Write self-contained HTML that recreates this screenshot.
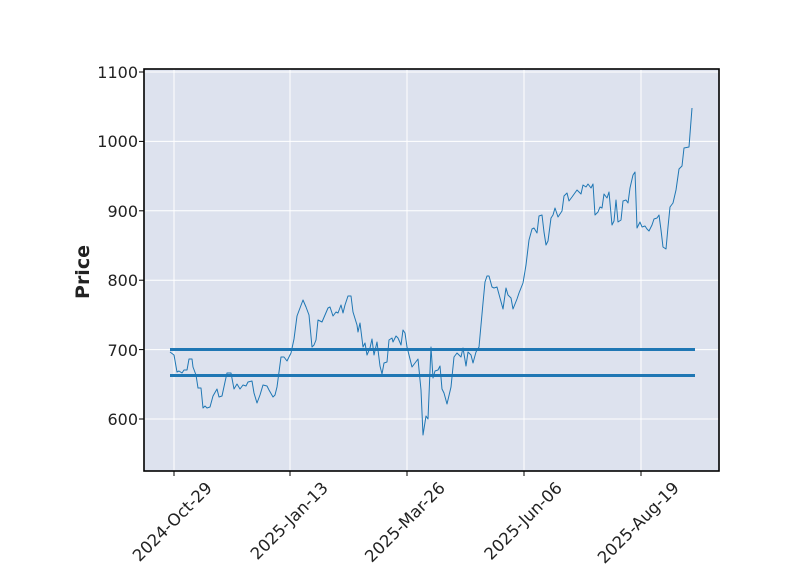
<!DOCTYPE html>
<html><head><meta charset="utf-8"><style>
html,body{margin:0;padding:0;background:#fff;}
svg text{font-family:"DejaVu Sans","Liberation Sans",sans-serif;fill:#222;}
</style></head><body>
<svg width="800" height="575" viewBox="0 0 800 575" xmlns="http://www.w3.org/2000/svg">
<rect x="144" y="69" width="575" height="402" fill="#dde2ee"/>
<g stroke="#fff" stroke-width="1">
<line x1="144" y1="72" x2="719" y2="72"/>
<line x1="144" y1="141.4" x2="719" y2="141.4"/>
<line x1="144" y1="210.8" x2="719" y2="210.8"/>
<line x1="144" y1="280.2" x2="719" y2="280.2"/>
<line x1="144" y1="349.6" x2="719" y2="349.6"/>
<line x1="144" y1="419" x2="719" y2="419"/>
<line x1="174" y1="69" x2="174" y2="471"/>
<line x1="290" y1="69" x2="290" y2="471"/>
<line x1="407" y1="69" x2="407" y2="471"/>
<line x1="524" y1="69" x2="524" y2="471"/>
<line x1="641" y1="69" x2="641" y2="471"/>
</g>
<line x1="170" y1="349.5" x2="695" y2="349.5" stroke="#1f77b4" stroke-width="3"/>
<line x1="170" y1="375.5" x2="695" y2="375.5" stroke="#1f77b4" stroke-width="3"/>
<polyline fill="none" stroke="#1f77b4" stroke-width="1" stroke-linejoin="round" points="170,352 174,355 177,372 179,371 182,373 184,370 187,370 189,359 192,359 193,367 196,375 198,388 201,388 203,408 205,406 207,408 210,407 213,396 217,389 219,397 222,396 225,382 227,373 231,373 234,389 237,384 240,389 243,385 246,386 248,382 252,381 254,393 257,403 260,395 263,385 267,386 269,390 273,397 275,395 277,387 281,357 284,357 287,361 291,353 294,339 297,316 300,308 303,300 306,307 309,315 312,347 314,345 316,340 318,320 322,322 325,315 328,308 330,307 333,316 336,312 338,313 341,305 343,313 345,305 348,296 351,296 353,312 357,325 358,332 360,323 363,347 365,343 367,355 370,348 372,339 374,355 377,342 380,366 382,374 384,363 387,362 389,340 392,338 393,342 396,336 398,338 401,345 403,330 405,333 407,347 412,367 418,359 421,390 423,435 426,416 428,419 431,347 433,378 435,371 438,370 440,366 442,389 444,393 447,404 451,387 454,357 457,353 461,357 463,348 466,366 468,352 471,355 473,363 476,352 479,347 483,303 485,282 487,276 489,276 492,287 494,288 497,287 500,298 503,309 506,288 508,295 511,298 513,309 517,299 519,293 523,283 526,265 529,240 532,229 534,228 537,233 539,216 542,215 544,232 546,245 548,241 551,218 553,215 555,208 558,217 562,211 564,196 567,193 569,201 572,197 577,190 581,194 583,185 586,187 588,184 591,188 593,184 595,215 598,212 600,207 602,208 604,194 607,198 609,192 612,225 614,221 616,200 618,222 621,220 623,201 626,200 628,203 630,188 633,175 635,172 637,228 640,222 642,227 645,226 647,229 649,231 652,225 654,219 657,218 659,215 661,230 663,247 666,249 668,227 670,207 673,203 676,190 679,169 682,166 684,148 689,147 692,108"/>
<rect x="144" y="69" width="575" height="402" fill="none" stroke="#000" stroke-width="1.6"/>
<g stroke="#000" stroke-width="1">
<line x1="139" y1="72" x2="144" y2="72"/><line x1="139" y1="141.4" x2="144" y2="141.4"/>
<line x1="139" y1="210.8" x2="144" y2="210.8"/><line x1="139" y1="280.2" x2="144" y2="280.2"/>
<line x1="139" y1="349.6" x2="144" y2="349.6"/><line x1="139" y1="419" x2="144" y2="419"/>
<line x1="174" y1="471" x2="174" y2="476"/><line x1="290" y1="471" x2="290" y2="476"/>
<line x1="407" y1="471" x2="407" y2="476"/><line x1="524" y1="471" x2="524" y2="476"/>
<line x1="641" y1="471" x2="641" y2="476"/>
</g>
<g font-size="16" text-anchor="end">
<text x="138" y="78">1100</text><text x="138" y="147">1000</text>
<text x="138" y="217">900</text><text x="138" y="286">800</text>
<text x="138" y="356">700</text><text x="138" y="425">600</text>
</g>
<g font-size="16.5" text-anchor="end">
<text transform="translate(213,489) rotate(-45)">2024-Oct-29</text>
<text transform="translate(329,489) rotate(-45)">2025-Jan-13</text>
<text transform="translate(446,489) rotate(-45)">2025-Mar-26</text>
<text transform="translate(563,489) rotate(-45)">2025-Jun-06</text>
<text transform="translate(680,489) rotate(-45)">2025-Aug-19</text>
</g>
<text transform="translate(89,272) rotate(-90)" font-size="19" font-weight="bold" text-anchor="middle">Price</text>
</svg>
</body></html>
